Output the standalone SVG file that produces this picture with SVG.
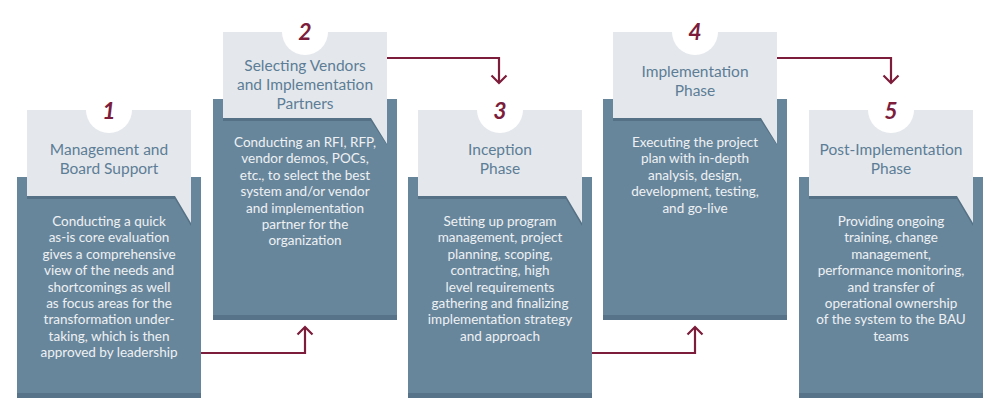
<svg xmlns="http://www.w3.org/2000/svg" width="1000" height="415" viewBox="0 0 1000 415">
<defs>
<style>
.box{fill:#68869b}
.strip{fill:#56738a}
.card{fill:#e4e8ec}
.shadow{fill:#4d687d;opacity:0.7}
.hole{fill:#ffffff}
.num{font-family:"Lato","Liberation Sans",sans-serif;font-size:23px;font-weight:bold;font-style:italic;fill:#7b1d3b;text-anchor:middle}
.title{font-family:"Lato","Liberation Sans",sans-serif;font-size:15.5px;fill:#5d7d96;text-anchor:middle}
.body{font-family:"Lato","Liberation Sans",sans-serif;font-size:13.5px;fill:#eef1f4;text-anchor:middle}
.conn{fill:none;stroke:#7b1d3b;stroke-width:2.2}
</style>
<marker id="chev" markerUnits="userSpaceOnUse" markerWidth="24" markerHeight="24" viewBox="0 0 24 24" refX="12" refY="12" orient="auto">
<path d="M4.5,4.5 L12,12 L4.5,19.5" fill="none" stroke="#7b1d3b" stroke-width="2.2"/>
</marker>
</defs>
<rect width="1000" height="415" fill="#ffffff"/>

<g id="connectors">
<path class="conn" d="M201,353 H305 V327" marker-end="url(#chev)"/>
<path class="conn" d="M387,58 H499 V83" marker-end="url(#chev)"/>
<path class="conn" d="M592,353 H695 V327" marker-end="url(#chev)"/>
<path class="conn" d="M777,58 H891 V83" marker-end="url(#chev)"/>
</g>

<g id="step1">
<rect class="box" x="17" y="177" width="184" height="221"/>
<rect class="strip" x="17" y="393" width="184" height="5"/>
<path class="shadow" d="M27,113 H191 V226 L175,199 H27 Z"/>
<path class="card" d="M27,110 H191 V223 L175,196 H27 Z"/>
<circle class="hole" cx="109" cy="110" r="23"/>
<text class="num" x="109" y="119">1</text>
<text class="title" x="109" y="155">Management and</text>
<text class="title" x="109" y="173.5">Board Support</text>
<text class="body" x="109" y="226">Conducting a quick</text>
<text class="body" x="109" y="242.4">as-is core evaluation</text>
<text class="body" x="109" y="258.8">gives a comprehensive</text>
<text class="body" x="109" y="275.2">view of the needs and</text>
<text class="body" x="109" y="291.6">shortcomings as well</text>
<text class="body" x="109" y="308">as focus areas for the</text>
<text class="body" x="109" y="324.4">transformation under-</text>
<text class="body" x="109" y="340.8">taking, which is then</text>
<text class="body" x="109" y="357.2">approved by leadership</text>
</g>

<g id="step2">
<rect class="box" x="213" y="99" width="184" height="221"/>
<rect class="strip" x="213" y="315" width="184" height="5"/>
<path class="shadow" d="M223,35 H387 V145 L371,121 H223 Z"/>
<path class="card" d="M223,32 H387 V144 L371,118 H223 Z"/>
<circle class="hole" cx="305" cy="32" r="23"/>
<text class="num" x="305" y="40">2</text>
<text class="title" x="305" y="71">Selecting Vendors</text>
<text class="title" x="305" y="90">and Implementation</text>
<text class="title" x="305" y="109">Partners</text>
<text class="body" x="305" y="147">Conducting an RFI, RFP,</text>
<text class="body" x="305" y="163.4">vendor demos, POCs,</text>
<text class="body" x="305" y="179.8">etc., to select the best</text>
<text class="body" x="305" y="196.2">system and/or vendor</text>
<text class="body" x="305" y="212.6">and implementation</text>
<text class="body" x="305" y="229">partner for the</text>
<text class="body" x="305" y="245.4">organization</text>
</g>

<g id="step3">
<rect class="box" x="408" y="177" width="184" height="221"/>
<rect class="strip" x="408" y="393" width="184" height="5"/>
<path class="shadow" d="M418,113 H582 V226 L566,199 H418 Z"/>
<path class="card" d="M418,110 H582 V223 L566,196 H418 Z"/>
<circle class="hole" cx="500" cy="110" r="23"/>
<text class="num" x="500" y="119">3</text>
<text class="title" x="500" y="155">Inception</text>
<text class="title" x="500" y="173.5">Phase</text>
<text class="body" x="500" y="226">Setting up program</text>
<text class="body" x="500" y="242.4">management, project</text>
<text class="body" x="500" y="258.8">planning, scoping,</text>
<text class="body" x="500" y="275.2">contracting, high</text>
<text class="body" x="500" y="291.6">level requirements</text>
<text class="body" x="500" y="308">gathering and finalizing</text>
<text class="body" x="500" y="324.4">implementation strategy</text>
<text class="body" x="500" y="340.8">and approach</text>
</g>

<g id="step4">
<rect class="box" x="603" y="99" width="184" height="221"/>
<rect class="strip" x="603" y="315" width="184" height="5"/>
<path class="shadow" d="M613,35 H777 V145 L761,121 H613 Z"/>
<path class="card" d="M613,32 H777 V144 L761,118 H613 Z"/>
<circle class="hole" cx="695" cy="32" r="23"/>
<text class="num" x="695" y="40">4</text>
<text class="title" x="695" y="77">Implementation</text>
<text class="title" x="695" y="96">Phase</text>
<text class="body" x="695" y="147">Executing the project</text>
<text class="body" x="695" y="163.4">plan with in-depth</text>
<text class="body" x="695" y="179.8">analysis, design,</text>
<text class="body" x="695" y="196.2">development, testing,</text>
<text class="body" x="695" y="212.6">and go-live</text>
</g>

<g id="step5">
<rect class="box" x="799" y="177" width="184" height="221"/>
<rect class="strip" x="799" y="393" width="184" height="5"/>
<path class="shadow" d="M809,113 H973 V226 L957,199 H809 Z"/>
<path class="card" d="M809,110 H973 V223 L957,196 H809 Z"/>
<circle class="hole" cx="891" cy="110" r="23"/>
<text class="num" x="891" y="119">5</text>
<text class="title" x="891" y="155">Post-Implementation</text>
<text class="title" x="891" y="173.5">Phase</text>
<text class="body" x="891" y="226">Providing ongoing</text>
<text class="body" x="891" y="242.4">training, change</text>
<text class="body" x="891" y="258.8">management,</text>
<text class="body" x="891" y="275.2">performance monitoring,</text>
<text class="body" x="891" y="291.6">and transfer of</text>
<text class="body" x="891" y="308">operational ownership</text>
<text class="body" x="891" y="324.4">of the system to the BAU</text>
<text class="body" x="891" y="340.8">teams</text>
</g>
</svg>
